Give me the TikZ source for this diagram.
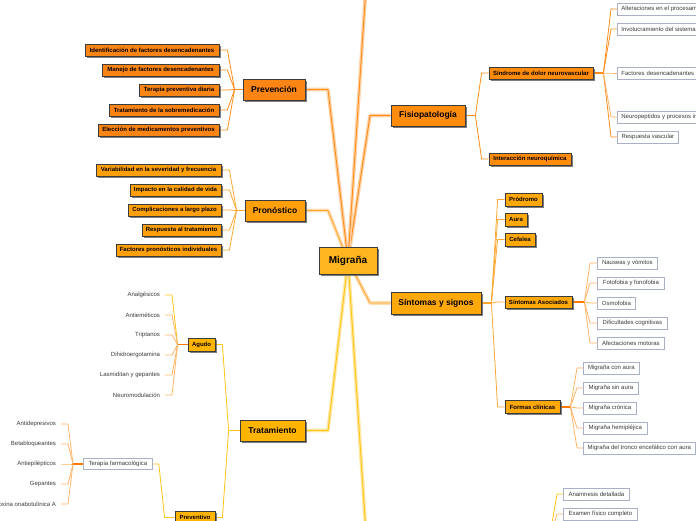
\documentclass[tikz,border=0pt]{standalone}
\usepackage{fontspec}
\setmainfont{Liberation Sans}
\usetikzlibrary{shadows,backgrounds,calc}
\definecolor{cPrev}{HTML}{FA8414}
\definecolor{cPron}{HTML}{FFA00A}
\definecolor{cTrat}{HTML}{FFB400}
\definecolor{cMig}{HTML}{FFB61E}
\definecolor{cFis}{HTML}{FF8C0C}
\definecolor{cSin}{HTML}{FFA80A}
\definecolor{bord}{HTML}{3C3C3C}
\definecolor{wbord}{HTML}{A9B0C8}
\definecolor{txt}{HTML}{3A3A3A}
\definecolor{lnOr}{HTML}{FF8C1A}
\definecolor{lnAm}{HTML}{FFA733}
\definecolor{lnYe}{HTML}{FFC414}
\definecolor{lnLt}{HTML}{FFB366}
\definecolor{lnDk}{HTML}{FF7A00}
\begin{document}
\begin{tikzpicture}[x=1pt,y=-1pt,
  box/.style={draw=bord, line width=0.8pt, inner sep=0pt, align=center, text=black,
    drop shadow={shadow xshift=1.6pt, shadow yshift=-1.6pt, fill=black!60, opacity=0.85}},
  mainbox/.style={box, font=\bfseries\fontsize{8.5}{10}\selectfont, minimum height=21pt},
  subbox/.style={box, font=\bfseries\fontsize{6}{7}\selectfont, minimum height=12pt},
  wbox/.style={draw=wbord, line width=0.8pt, fill=white, inner xsep=4pt, inner ysep=0pt,
    minimum height=12pt, font=\fontsize{6}{7}\selectfont, text=txt, anchor=west,
    drop shadow={shadow xshift=0.8pt, shadow yshift=-0.8pt, fill=black!25, opacity=1}},
  leaf/.style={font=\fontsize{6}{7}\selectfont, text=txt, anchor=east, inner sep=0pt, outer xsep=5pt},
  mlink/.style={draw=#1, line width=0.9pt, line join=round,
    preaction={draw=#1!40, line width=3.6pt, line join=round}},
  slink/.style={draw=#1, line width=0.8pt, line join=round},
  jlink/.style={draw=#1, line width=1.8pt}
]
\useasboundingbox (0,0) rectangle (696,520);
\clip (0,0) rectangle (696,520);

% central and main nodes
\node[box, fill=cMig, minimum width=58pt, minimum height=27pt, font=\bfseries\fontsize{10}{12}\selectfont] (mig) at (348,260.5) {Migraña};
\node[mainbox, fill=cPrev, minimum width=62pt] (prev) at (274,89.5) {Prevención};
\node[mainbox, fill=cPron, minimum width=60pt] (pron) at (275,210.5) {Pronóstico};
\node[mainbox, fill=cTrat, minimum width=65pt] (trat) at (272.5,430.5) {Tratamiento};
\node[mainbox, fill=cFis, minimum width=74pt] (fisio) at (428,115.5) {Fisiopatología};
\node[mainbox, fill=cSin, minimum width=90pt, minimum height=22pt] (sint) at (436,303) {Síntomas y signos};
\coordinate (topend) at (365.5,-6);
\coordinate (botend) at (365.5,526);

% Prevencion children
\node[subbox, fill=cPrev, minimum width=134pt] (p1) at (152,50) {Identificación de factores desencadenantes};
\node[subbox, fill=cPrev, minimum width=117pt] (p2) at (160.5,70) {Manejo de factores desencadenantes};
\node[subbox, fill=cPrev, minimum width=80pt] (p3) at (179,90) {Terapia preventiva diaria};
\node[subbox, fill=cPrev, minimum width=110pt] (p4) at (164,110) {Tratamiento de la sobremedicación};
\node[subbox, fill=cPrev, minimum width=121pt] (p5) at (158.5,130) {Elección de medicamentos preventivos};

% Pronostico children
\node[subbox, fill=cPron, minimum width=125pt] (r1) at (158.5,170) {Variabilidad en la severidad y frecuencia};
\node[subbox, fill=cPron, minimum width=91pt] (r2) at (175.5,190) {Impacto en la calidad de vida};
\node[subbox, fill=cPron, minimum width=93pt] (r3) at (174.5,210) {Complicaciones a largo plazo};
\node[subbox, fill=cPron, minimum width=79pt] (r4) at (181.5,230) {Respuesta al tratamiento};
\node[subbox, fill=cPron, minimum width=105pt] (r5) at (168.5,250) {Factores pronósticos individuales};

% Tratamiento subtree
\node[subbox, fill=cTrat, minimum width=27pt, minimum height=13pt] (agudo) at (201.5,344.5) {Agudo};
\node[subbox, fill=cTrat, minimum width=40pt, minimum height=13pt] (prevtv) at (195,517.5) {Preventivo};
\node[wbox, minimum width=69pt, minimum height=11pt] (tf) at (83,464) {Terapia farmacológica};
\node[leaf] (a1) at (165,295) {Analgésicos};
\node[leaf] (a2) at (165,315) {Antieméticos};
\node[leaf] (a3) at (165,335) {Triptanos};
\node[leaf] (a4) at (165,355) {Dihidroergotamina};
\node[leaf] (a5) at (165,375) {Lasmiditan y gepantes};
\node[leaf] (a6) at (165,395) {Neuromodulación};
\node[leaf] (t1) at (61,424) {Antidepresivos};
\node[leaf] (t2) at (61,444) {Betabloqueantes};
\node[leaf] (t3) at (61,464) {Antiepilépticos};
\node[leaf] (t4) at (61,484) {Gepantes};
\node[leaf] (t5) at (61,504) {Toxina onabotulínica A};

% Fisiopatologia subtree
\node[subbox, fill=cFis, minimum width=104pt] (snv) at (541,73) {Síndrome de dolor neurovascular};
\node[subbox, fill=cFis, minimum width=82pt] (inq) at (530,159) {Interacción neuroquímica};
\node[wbox] (s1) at (617,9) {Alteraciones en el procesamiento};
\node[wbox] (s2) at (617,29) {Involucramiento del sistema};
\node[wbox, text width=100pt, align=left] (s3) at (617,73) {Factores desencadenantes};
\node[wbox] (s4) at (617,117) {Neuropeptidos y procesos inflamatorios};
\node[wbox, minimum width=61pt] (s5) at (617,137) {Respuesta vascular};

% Sintomas subtree
\node[subbox, fill=cSin, minimum width=37pt, minimum height=13pt] (prod) at (523.5,199.5) {Pródromo};
\node[subbox, fill=cSin, minimum width=22pt, minimum height=13pt] (aura) at (516,219.5) {Aura};
\node[subbox, fill=cSin, minimum width=30pt, minimum height=13pt] (cef) at (520,239.5) {Cefalea};
\node[subbox, fill=cSin, minimum width=67pt] (sasoc) at (538.5,302) {Síntomas Asociados};
\node[subbox, fill=cSin, minimum width=55pt, minimum height=13pt] (fcl) at (532.5,407) {Formas clínicas};
\node[wbox, minimum width=60pt] (n1) at (597,263) {Nauseas y vómitos};
\node[wbox, minimum width=67pt] (n2) at (597,283) {Fotofobia y fonofobia};
\node[wbox, minimum width=38pt] (n3) at (597,303) {Osmofobia};
\node[wbox, minimum width=70pt] (n4) at (597,323) {Dificultades cognitivas};
\node[wbox, minimum width=67pt] (n5) at (597,343) {Afectaciones motoras};
\node[wbox, minimum width=56pt] (m1) at (583,368) {Migraña con aura};
\node[wbox, minimum width=55pt] (m2) at (583,388) {Migraña sin aura};
\node[wbox, minimum width=53pt] (m3) at (583,408) {Migraña crónica};
\node[wbox, minimum width=64pt] (m4) at (583,428) {Migraña hemipléjica};
\node[wbox, minimum width=112pt] (m5) at (583,448) {Migraña del tronco encefálico con aura};
\node[wbox, minimum width=66pt] (d1) at (563,494) {Anamnesis detallada};
\node[wbox, minimum width=74pt] (d2) at (563,514) {Examen físico completo};
\coordinate (dg) at (549,540);

\begin{scope}[on background layer]
\clip (0,0) rectangle (696,520);
% main branches
\draw[mlink=lnOr] (prev.east) -- (328,89.5) -- (mig.center);
\draw[mlink=lnAm] (pron.east) -- (328,210.5) -- (mig.center);
\draw[mlink=lnYe] (trat.east) -- (328,430.5) -- (mig.center);
\draw[mlink=lnOr] (fisio.west) -- (370,115.5) -- (mig.center);
\draw[mlink=lnAm] (sint.west) -- (370,303) -- (mig.center);
\draw[mlink=lnOr] (mig.center) -- (topend);
\draw[mlink=lnYe] (mig.center) -- (botend);

% Prevencion
\foreach \n in {p1,p2,p3,p4,p5}{\draw[slink=lnOr] (\n.east) -- ++(8,0) -- ($(prev.west)+(-8,0)$);}
\draw[jlink=lnOr] ($(prev.west)+(-8,0)$) -- (prev.west);
% Pronostico
\foreach \n in {r1,r2,r3,r4,r5}{\draw[slink=lnAm] (\n.east) -- ++(8,0) -- ($(pron.west)+(-8,0)$);}
\draw[jlink=lnAm] ($(pron.west)+(-8,0)$) -- (pron.west);
% Tratamiento
\draw[slink=lnYe] (agudo.east) -- ++(7,0) -- ($(trat.west)+(-11,0)$);
\draw[slink=lnYe] (prevtv.east) -- ++(7,0) -- ($(trat.west)+(-11,0)$);
\draw[jlink=lnYe] ($(trat.west)+(-11,0)$) -- (trat.west);
\draw[slink=lnYe] (a1.east) -- ++(7,0) -- ($(agudo.west)+(-10,0)$);
\foreach \n in {a2,a3,a4,a5,a6}{\draw[slink=lnLt] (\n.east) -- ++(7,0) -- ($(agudo.west)+(-10,0)$);}
\draw[jlink=lnDk] ($(agudo.west)+(-10,0)$) -- (agudo.west);
\draw[slink=lnYe] (tf.east) -- ++(6,0) -- ($(prevtv.west)+(-10,0)$) -- (prevtv.west);
\foreach \n in {t1,t2,t3,t4,t5}{\draw[slink=lnLt] (\n.east) -- ++(7,0) -- ($(tf.west)+(-10,0)$);}
\draw[jlink=lnDk] ($(tf.west)+(-10,0)$) -- (tf.west);
% Fisiopatologia
\draw[jlink=lnOr] (fisio.east) -- ++(10,0);
\draw[slink=lnOr] ($(fisio.east)+(10,0)$) -- ($(snv.west)+(-7,0)$) -- (snv.west);
\draw[slink=lnOr] ($(fisio.east)+(10,0)$) -- ($(inq.west)+(-7,0)$) -- (inq.west);
\draw[jlink=lnOr] (snv.east) -- ++(10,0);
\foreach \n in {s1,s2,s5}{\draw[slink=lnOr] ($(snv.east)+(10,0)$) -- ($(\n.west)+(-6,0)$) -- (\n.west);}
\foreach \n in {s3,s4}{\draw[slink=lnLt] ($(snv.east)+(10,0)$) -- ($(\n.west)+(-6,0)$) -- (\n.west);}
% Sintomas
\draw[jlink=lnAm] (sint.east) -- ++(10,0);
\foreach \n in {prod,aura,cef,sasoc,fcl}{\draw[slink=lnAm] ($(sint.east)+(10,0)$) -- ($(\n.west)+(-7,0)$) -- (\n.west);}
\draw[jlink=lnDk] (sasoc.east) -- ++(12,0);
\foreach \n in {n1,n2,n3,n4,n5}{\draw[slink=lnLt] ($(sasoc.east)+(12,0)$) -- ($(\n.west)+(-7,0)$) -- (\n.west);}
\draw[jlink=lnDk] (fcl.east) -- ++(10,0);
\foreach \n in {m1,m2,m3,m4,m5}{\draw[slink=lnLt] ($(fcl.east)+(10,0)$) -- ($(\n.west)+(-6,0)$) -- (\n.west);}
% bottom right
\draw[slink=lnYe] (dg) -- ($(d1.west)+(-6,0)$) -- (d1.west);
\draw[slink=lnLt] (dg) -- ($(d2.west)+(-6,0)$) -- (d2.west);
\end{scope}
\end{tikzpicture}
\end{document}
